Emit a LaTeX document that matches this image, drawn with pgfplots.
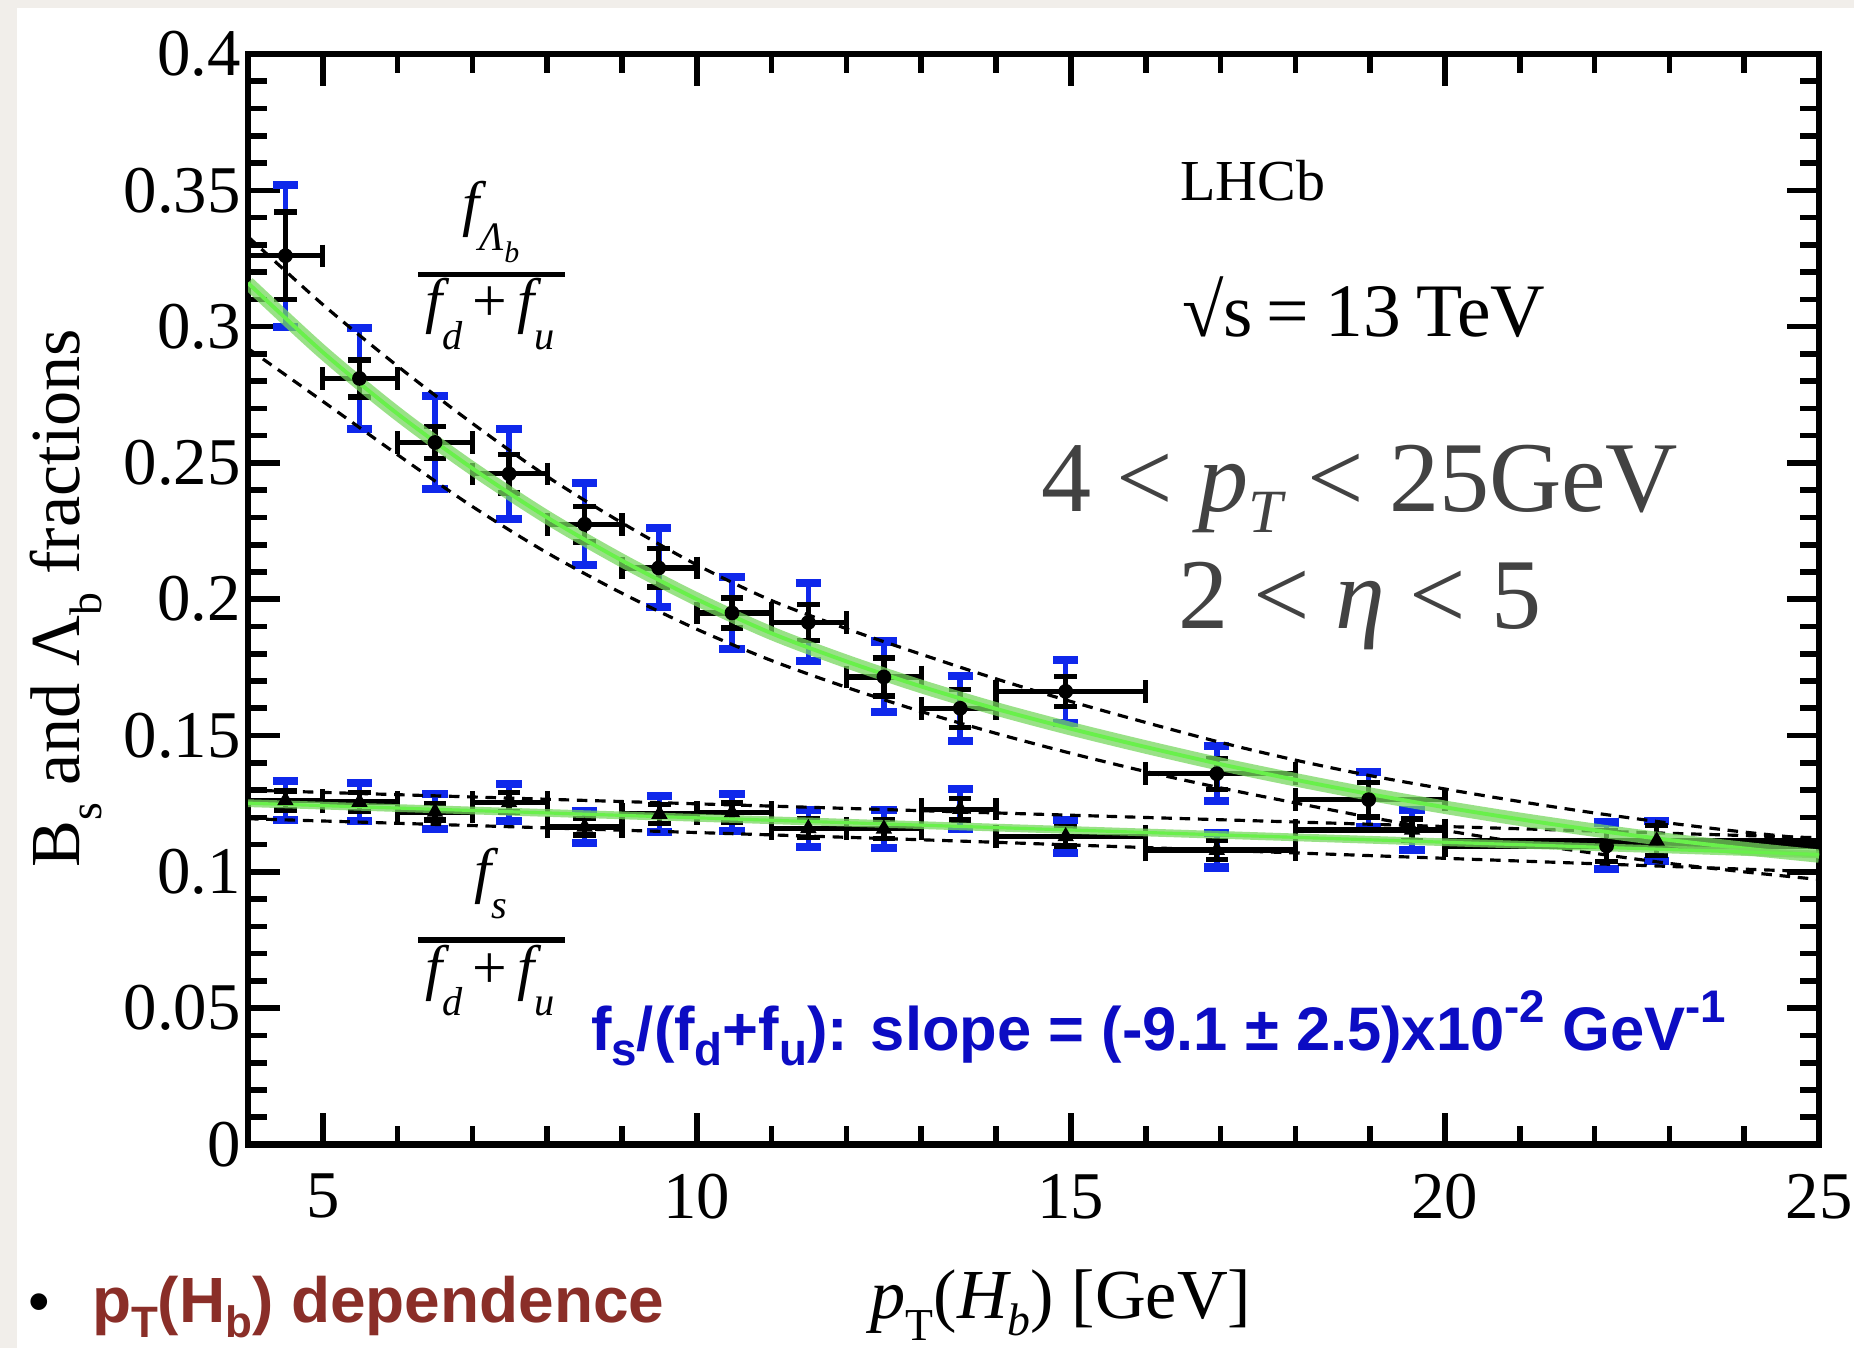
\documentclass[border=0pt]{standalone}
\usepackage{fontspec}
\setmainfont{Liberation Serif}
\newfontfamily\sans{Liberation Sans}
\usepackage{pgfplots}
\pgfplotsset{compat=1.18}
\usepackage{pgfplotstable}

\definecolor{bggray}{RGB}{241,238,234}
\definecolor{errblue}{RGB}{15,40,235}
\definecolor{txtblue}{RGB}{12,12,195}
\definecolor{darkred}{RGB}{138,46,40}
\definecolor{txtgray}{RGB}{66,66,66}
\definecolor{bandgreen}{RGB}{120,215,95}
\definecolor{linegreen}{RGB}{105,240,75}
\newcommand{\fsz}[1]{\fontsize{#1}{#1}\selectfont}

% Lambda_b / (f_d+f_u): x, y, bin minus, bin plus, stat, total
\pgfplotstableread{
x y xm xp st tot
4.50 0.326 0.50 0.50 0.016 0.026
5.49 0.281 0.49 0.51 0.0068 0.0185
6.50 0.2575 0.50 0.50 0.006 0.017
7.49 0.246 0.49 0.51 0.007 0.0165
8.50 0.2275 0.50 0.50 0.0065 0.015
9.49 0.2115 0.49 0.51 0.007 0.0145
10.47 0.195 0.47 0.53 0.0055 0.0132
11.49 0.1915 0.49 0.51 0.0066 0.0143
12.50 0.1715 0.50 0.50 0.007 0.013
13.52 0.160 0.52 0.48 0.007 0.012
14.93 0.1662 0.93 1.07 0.0055 0.0115
16.95 0.136 0.95 1.05 0.0057 0.0101
18.98 0.1265 0.98 1.02 0.0064 0.0101
22.16 0.1095 2.16 2.84 0.0058 0.0086
}\lbdata

% f_s / (f_d+f_u)
\pgfplotstableread{
x y xm xp st tot
4.50 0.1262 0.50 0.50 0.0035 0.0072
5.49 0.1256 0.49 0.51 0.0035 0.0070
6.50 0.1220 0.50 0.50 0.0030 0.0064
7.49 0.1255 0.49 0.51 0.0035 0.0068
8.50 0.1165 0.50 0.50 0.0030 0.0058
9.50 0.1212 0.50 0.50 0.0035 0.0065
10.47 0.1218 0.47 0.53 0.0035 0.0068
11.49 0.1160 0.49 0.51 0.0035 0.0068
12.50 0.1158 0.50 0.50 0.0035 0.0070
13.52 0.1230 0.52 0.48 0.0040 0.0073
14.93 0.1130 0.93 1.07 0.0035 0.0060
16.95 0.1080 0.95 1.05 0.0035 0.0064
19.56 0.1154 1.56 0.44 0.0040 0.0074
22.83 0.1114 2.83 2.17 0.0055 0.0073
}\fsdata

\begin{document}
\begin{tikzpicture}[x=1mm,y=1mm, txt/.style={inner sep=0pt, outer sep=0pt}]
\fill[bggray] (0,0) rectangle (185.4,134.8);
\useasboundingbox (0,0) rectangle (185.4,134.8);
\fill[white] (1.7,0) rectangle (185.4,134.0);
\begin{axis}[
  at={(24.8mm,20.35mm)}, anchor=south west, scale only axis,
  width=157.1mm, height=109.05mm,
  xmin=4, xmax=25, ymin=0, ymax=0.4,
  xtick={5,10,15,20,25},
  ytick={0,0.05,0.1,0.15,0.2,0.25,0.3,0.35,0.4},
  minor xtick={4,6,7,8,9,11,12,13,14,16,17,18,19,21,22,23,24},
  minor ytick={0.01,0.02,0.03,0.04,0.06,0.07,0.08,0.09,0.11,0.12,0.13,0.14,0.16,0.17,0.18,0.19,0.21,0.22,0.23,0.24,0.26,0.27,0.28,0.29,0.31,0.32,0.33,0.34,0.36,0.37,0.38,0.39},
  tick align=inside,
  major tick length=3.2mm, minor tick length=1.9mm,
  major tick style={line width=1.6pt, black},
  minor tick style={line width=1.6pt, black},
  axis line style={line width=1.8pt},
  tick label style={font=\fsz{19}},
  /pgf/number format/assume math mode=true,
  yticklabel style={/pgf/number format/fixed, /pgf/number format/precision=2, xshift=0.5mm},
  xticklabel style={yshift=-1.7mm},
]
% total uncertainties (blue)
\addplot[draw=none, mark=none, error bars/.cd, y dir=both, y explicit,
  error bar style={errblue, line width=1.6pt},
  error mark options={rotate=90, errblue, line width=2.3pt, mark size=3.6pt}]
  table[x=x, y=y, y error=tot] {\lbdata};
\addplot[draw=none, mark=none, error bars/.cd, y dir=both, y explicit,
  error bar style={errblue, line width=1.6pt},
  error mark options={rotate=90, errblue, line width=2.3pt, mark size=3.6pt}]
  table[x=x, y=y, y error=tot] {\fsdata};
% statistical uncertainties and bins (black)
\addplot[only marks, mark=*, mark size=1.9pt, black, error bars/.cd,
  x dir=both, x explicit, y dir=both, y explicit,
  error bar style={black, line width=1.5pt},
  error mark options={rotate=90, black, line width=1.5pt, mark size=3.2pt}]
  table[x=x, y=y, x error plus=xp, x error minus=xm, y error=st] {\lbdata};
\addplot[only marks, mark=triangle*, mark size=2.3pt, black, error bars/.cd,
  x dir=both, x explicit, y dir=both, y explicit,
  error bar style={black, line width=1.5pt},
  error mark options={rotate=90, black, line width=1.5pt, mark size=3.2pt}]
  table[x=x, y=y, x error plus=xp, x error minus=xm, y error=st] {\fsdata};
% uncertainty bands of the fits (dashed)
\addplot[black, line width=0.9pt, dash pattern=on 3pt off 2.2pt, smooth] coordinates {
(4,0.333) (5,0.3081) (6,0.2855) (7,0.2645) (8,0.245) (9,0.228) (10,0.2126) (11,0.1995)
(12,0.1892) (13,0.1798) (14,0.1708) (15,0.1625) (16,0.1548) (17,0.1475) (18,0.141)
(19,0.1353) (20,0.1304) (21,0.1258) (22,0.1216) (23,0.1179) (24,0.1146) (25,0.1118)};
\addplot[black, line width=0.9pt, dash pattern=on 3pt off 2.2pt, smooth] coordinates {
(4,0.292) (5,0.2726) (6,0.253) (7,0.234) (8,0.217) (9,0.2022) (10,0.189) (11,0.1775)
(12,0.1677) (13,0.1588) (14,0.1508) (15,0.1435) (16,0.1368) (17,0.1308) (18,0.1253)
(19,0.12) (20,0.1152) (21,0.1108) (22,0.1068) (23,0.1031) (24,0.1) (25,0.0972)};
\addplot[black, line width=0.9pt, dash pattern=on 3pt off 2.2pt, smooth] coordinates {
(4,0.130) (13.3,0.1222) (25,0.1125)};
\addplot[black, line width=0.9pt, dash pattern=on 3pt off 2.2pt, smooth] coordinates {
(4,0.1195) (13.3,0.1115) (25,0.1000)};
% fits (green)
\addplot[bandgreen, line width=3.8pt, opacity=0.75, smooth] coordinates {
(4,0.316) (5,0.2906) (6,0.268) (7,0.248) (8,0.230) (9,0.2142) (10,0.200) (11,0.1875)
(12,0.1772) (13,0.168) (14,0.1598) (15,0.1525) (16,0.1458) (17,0.1395) (18,0.1338)
(19,0.1285) (20,0.1237) (21,0.1193) (22,0.1153) (23,0.1117) (24,0.1086) (25,0.1058)};
\addplot[linegreen, line width=1.1pt, smooth] coordinates {
(4,0.316) (5,0.2906) (6,0.268) (7,0.248) (8,0.230) (9,0.2142) (10,0.200) (11,0.1875)
(12,0.1772) (13,0.168) (14,0.1598) (15,0.1525) (16,0.1458) (17,0.1395) (18,0.1338)
(19,0.1285) (20,0.1237) (21,0.1193) (22,0.1153) (23,0.1117) (24,0.1086) (25,0.1058)};
\addplot[bandgreen, line width=2.2pt, opacity=0.75] coordinates {(4,0.1252) (25,0.1064)};
\addplot[linegreen, line width=0.9pt] coordinates {(4,0.1252) (25,0.1064)};
\end{axis}

% annotations
\node[txt, anchor=base west, font=\fsz{16.5}] at (118.0,114.7) {LHCb};
\node[txt, anchor=base west, font=\fsz{21.5}] at (118.2,101.1) {√s\hspace{0.18em}=\hspace{0.22em}13\hspace{0.2em}TeV};
\node[txt, anchor=base, text=txtgray, font=\fsz{28.5}] at (136.0,83.6)
  {4 < {\itshape p}\raisebox{-0.2em}{\fsz{17.5}\itshape T} < 25GeV};
\node[txt, anchor=base, text=txtgray, font=\fsz{28.5}] at (136.0,71.9)
  {2 < {\itshape η} < 5};

% Lambda_b fraction label
\node[txt, anchor=base, font=\fsz{17.5}] at (49.1,112.3)
  {{\itshape f}\raisebox{-0.42em}{\fsz{11.5}\itshape Λ\raisebox{-0.3em}{\fsz{8.5}b}}};
\draw[line width=1.6pt] (41.8,107.35) -- (56.5,107.35);
\node[txt, anchor=base, font=\fsz{17.5}] at (49.0,102.6)
  {{\itshape f}\raisebox{-0.45em}{\fsz{11.5}\itshape d}\,+\,{\itshape f}\raisebox{-0.45em}{\fsz{11.5}\itshape u}};
% f_s fraction label
\node[txt, anchor=base, font=\fsz{17.5}] at (49.1,45.7)
  {{\itshape f}\raisebox{-0.45em}{\fsz{11.5}\itshape s}};
\draw[line width=1.6pt] (41.8,40.8) -- (56.5,40.8);
\node[txt, anchor=base, font=\fsz{17.5}] at (49.0,36.0)
  {{\itshape f}\raisebox{-0.45em}{\fsz{11.5}\itshape d}\,+\,{\itshape f}\raisebox{-0.45em}{\fsz{11.5}\itshape u}};

% slope text
\node[txt, anchor=base west, text=txtblue, font=\sans\bfseries\fsz{17.5}] at (59.1,29.8)
  {f\raisebox{-0.25em}{\fsz{13}s}/(f\raisebox{-0.25em}{\fsz{13}d}+f\raisebox{-0.25em}{\fsz{13}u}): slope = (-9.1 ± 2.5)x10\raisebox{0.45em}{\fsz{13}-2} GeV\raisebox{0.45em}{\fsz{13}-1}};

% axis titles
\node[txt, anchor=base, font=\fsz{20}] at (106.1,3.0)
  {{\itshape p}\raisebox{-0.32em}{\fsz{13}T}({\itshape H}\raisebox{-0.25em}{\fsz{13}\itshape b}) [GeV]};
\node[txt, rotate=90, anchor=base, font=\fsz{20}] at (8.0,75.0)
  {B\raisebox{-0.3em}{\fsz{13}s} and Λ\raisebox{-0.3em}{\fsz{13}b} fractions};

% bullet line
\node[txt, anchor=base west, font=\sans\fsz{17.5}] at (2.8,2.6) {•};
\node[txt, anchor=base west, text=darkred, font=\sans\bfseries\fsz{18.2}] at (9.2,2.6)
  {p\raisebox{-0.25em}{\fsz{12.5}T}(H\raisebox{-0.25em}{\fsz{12.5}b}) dependence};
\end{tikzpicture}
\end{document}
